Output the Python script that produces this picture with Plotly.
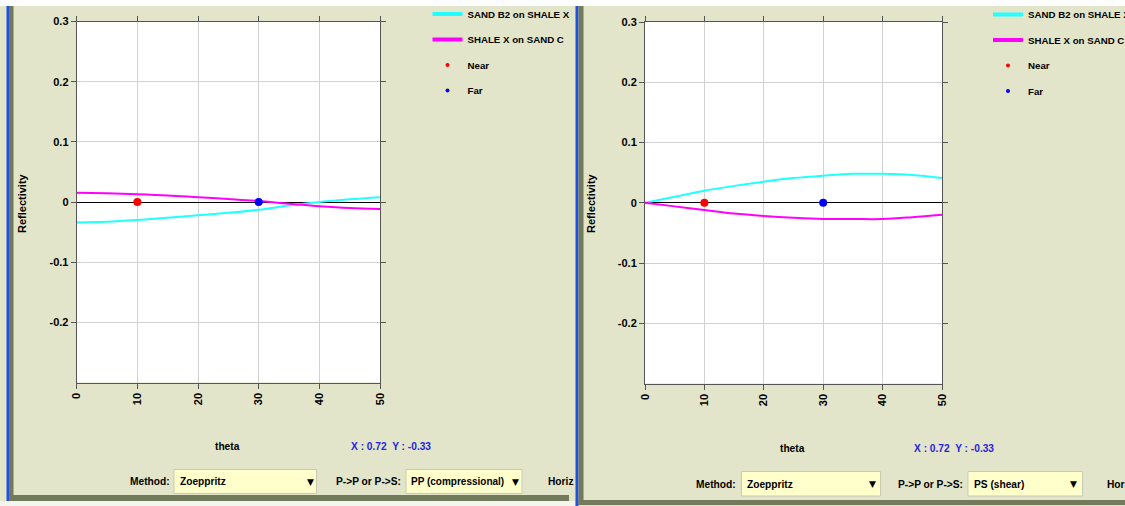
import plotly.graph_objects as go

W, H = 1125, 506

# ---------------- data ----------------
theta = [0, 5, 10, 15, 20, 25, 30, 35, 40, 45, 50]

# P->P (compressional)
pp_sand_b2_on_shale_x = [-0.034, -0.033, -0.030, -0.026, -0.022, -0.018, -0.013, -0.006, 0.000, 0.0045, 0.008]
pp_shale_x_on_sand_c = [0.0155, 0.0145, 0.013, 0.011, 0.008, 0.005, 0.0017, -0.003, -0.007, -0.010, -0.0117]

# P->S (shear)
ps_sand_b2_on_shale_x = [0.0, 0.010, 0.020, 0.028, 0.035, 0.041, 0.045, 0.048, 0.048, 0.046, 0.041]
ps_shale_x_on_sand_c = [0.0, -0.006, -0.012, -0.018, -0.022, -0.025, -0.027, -0.027, -0.027, -0.024, -0.020]

near_theta = [10]
near_refl = [0]
far_theta = [30]
far_refl = [0]

x_tick_vals = [0, 10, 20, 30, 40, 50]
y_tick_vals = [-0.2, -0.1, 0, 0.1, 0.2, 0.3]
y_tick_text = ["-0.2", "-0.1", "0", "0.1", "0.2", "0.3"]

series_names = ["SAND B2 on SHALE X", "SHALE X on SAND C"]
series_colors = ["#22FFFF", "#FF00FF"]
point_names = ["Near", "Far"]
point_colors = ["#FF0000", "#0000FF"]


# ---------------- helpers ----------------
def px(x):
    return x / W


def py(y):
    return 1 - y / H


BG = "#E2E5C9"
OLIVE = "#737A5B"
BLUE = "#1E50E6"
NARROW = "Liberation Sans Narrow, Arial Narrow, Liberation Sans, Arial, sans-serif"
WIDE = "Liberation Sans, Arial, sans-serif"
FS = 10.2
LFS = 9.7

fig = go.Figure()

panels = [
    dict(xa="x", ya="y", leg="legend", sb2=pp_sand_b2_on_shale_x, sx=pp_shale_x_on_sand_c),
    dict(xa="x2", ya="y2", leg="legend2", sb2=ps_sand_b2_on_shale_x, sx=ps_shale_x_on_sand_c),
]

for i, p in enumerate(panels):
    # curves
    for name, vals, col in zip(series_names, [p["sb2"], p["sx"]], series_colors):
        fig.add_trace(go.Scatter(
            x=theta, y=vals, mode="lines", name=name, showlegend=False,
            line=dict(color=col, width=2, shape="spline"),
            xaxis=p["xa"], yaxis=p["ya"],
        ))
    # near / far points
    for name, xs, ys, col in zip(point_names, [near_theta, far_theta], [near_refl, far_refl], point_colors):
        fig.add_trace(go.Scatter(
            x=xs, y=ys, mode="markers", name=name, showlegend=False,
            marker=dict(color=col, size=8),
            xaxis=p["xa"], yaxis=p["ya"],
        ))
    # legend entries (legend-only styling: thick line samples, small dots)
    for name, col in zip(series_names, series_colors):
        fig.add_trace(go.Scatter(
            x=[None], y=[None], mode="lines", name=name,
            line=dict(color=col, width=4),
            xaxis=p["xa"], yaxis=p["ya"], legend=p["leg"], legendgroup=f"{name}{i}",
        ))
    for name, col in zip(point_names, point_colors):
        fig.add_trace(go.Scatter(
            x=[None], y=[None], mode="markers", name=name,
            marker=dict(color=col, size=4),
            xaxis=p["xa"], yaxis=p["ya"], legend=p["leg"], legendgroup=f"{name}{i}",
        ))

tick_font = dict(family=NARROW, size=11, color="black", weight="bold")
common = dict(
    showline=True, linecolor="#555555", linewidth=1, mirror="ticks",
    ticks="outside", ticklen=5, tickcolor="#555555",
    showgrid=True, gridcolor="#D2D2D2", gridwidth=1,
    tickfont=tick_font, fixedrange=True,
)
xcommon = dict(common, range=[0, 50], tickvals=x_tick_vals, tickangle=-90, zeroline=False,
               tickfont=dict(family=WIDE, size=11, color="black", weight="bold"))
ycommon = dict(common, range=[-0.3, 0.3], tickvals=y_tick_vals, ticktext=y_tick_text,
               zeroline=True, zerolinecolor="#000000", zerolinewidth=1)

legend_common = dict(
    xanchor="left", yanchor="top", bgcolor="rgba(0,0,0,0)",
    font=dict(family=NARROW, size=LFS, color="black", weight="bold"),
    tracegroupgap=6.5, itemsizing="trace", traceorder="grouped",
)

fig.update_layout(
    width=W, height=H,
    margin=dict(l=0, r=0, t=0, b=0, pad=0, autoexpand=False),
    paper_bgcolor=BG, plot_bgcolor="white",
    showlegend=True,
    xaxis=dict(xcommon, domain=[px(76.7), px(380)], anchor="y"),
    yaxis=dict(ycommon, domain=[py(382.5), py(21.5)], anchor="x"),
    xaxis2=dict(xcommon, domain=[px(645), px(942)], anchor="y2"),
    yaxis2=dict(ycommon, domain=[py(383.5), py(22)], anchor="x2"),
    legend=dict(legend_common, x=px(427.5), y=py(-0.5)),
    legend2=dict(legend_common, x=px(988), y=py(0)),
)

# ---------------- window decorations ----------------
shapes = []


def rect(x0, y0, x1, y1, fill, line=None):
    shapes.append(dict(type="rect", xref="paper", yref="paper",
                       x0=px(x0), x1=px(x1), y0=py(y1), y1=py(y0),
                       fillcolor=fill, line=dict(width=1 if line else 0, color=line or fill),
                       layer="above"))


rect(0, 0, W, 6, "white")
# left panel frame
rect(6.5, 6, 9, 506, BLUE)
rect(9, 6, 13.5, 501, OLIVE)
rect(9, 495, 569, 501, OLIVE)
rect(0, 501, 575, 506, "#F4F5EC")
# right panel frame
rect(575.5, 6, 578.5, 506, BLUE)
rect(578.5, 6, 583.5, 505, OLIVE)
rect(578.5, 500, W, 505, OLIVE)
# dropdown boxes
box_fill = "#FFFFCC"
box_line = "#C9C9B4"
rect(174, 469.5, 316.5, 493.5, box_fill, box_line)
rect(406, 469.5, 522, 493.5, box_fill, box_line)
rect(741.5, 471.5, 880.5, 496, box_fill, box_line)
rect(968, 471.5, 1082.5, 496, box_fill, box_line)

fig.update_layout(shapes=shapes)

# ---------------- texts ----------------
ann = []


def text(x, y, s, anchor="left", color="black", size=FS, family=NARROW, angle=0):
    ann.append(dict(xref="paper", yref="paper", x=px(x), y=py(y), text=s,
                    showarrow=False, xanchor=anchor, yanchor="middle", textangle=angle,
                    font=dict(family=family, size=size, color=color, weight="bold")))


# left panel
text(22, 203, "Reflectivity", anchor="center", family=WIDE, size=11, angle=-90)
text(227, 446.5, "theta", anchor="center")
text(391, 446.5, "X : 0.72  Y : -0.33", anchor="center", color="#2424E0")
text(172, 481.5, "Method:", anchor="right")
text(178, 481.5, "Zoeppritz")
text(310, 481.5, "▼", anchor="center", size=9, family="DejaVu Sans")
text(403, 481.5, "P->P or P->S:", anchor="right")
text(408.5, 481.5, "PP (compressional)", size=10)
text(515, 481.5, "▼", anchor="center", size=9, family="DejaVu Sans")
text(546, 481.5, "Horiz")
# right panel
text(591, 203, "Reflectivity", anchor="center", family=WIDE, size=11, angle=-90)
text(792, 448, "theta", anchor="center")
text(954, 448, "X : 0.72  Y : -0.33", anchor="center", color="#2424E0")
text(738, 484, "Method:", anchor="right")
text(744.5, 484, "Zoeppritz")
text(872, 484, "▼", anchor="center", size=9, family="DejaVu Sans")
text(965, 484, "P->P or P->S:", anchor="right")
text(972, 484, "PS (shear)")
text(1073, 484, "▼", anchor="center", size=9, family="DejaVu Sans")
text(1104.5, 484, "Horiz")

fig.update_layout(annotations=ann)

fig.write_html(
    "out.html",
    config={"displayModeBar": False},
    post_script="document.body.style.margin='0';document.body.style.overflow='hidden';",
)
